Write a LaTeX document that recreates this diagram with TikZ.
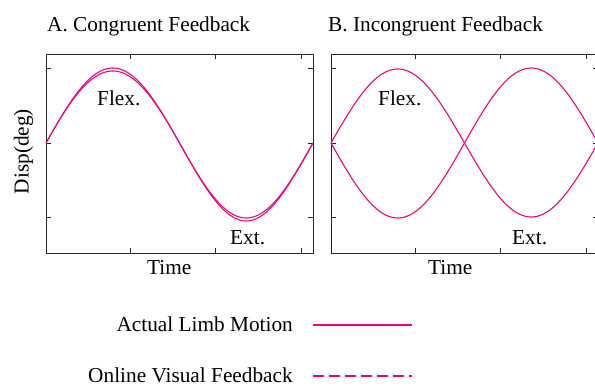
\documentclass[tikz,border=0pt]{standalone}
\usepackage{fontspec}
\setmainfont{Liberation Serif}
\definecolor{curvecol}{RGB}{228,8,128}
\begin{document}
\begin{tikzpicture}[x=1pt,y=-1pt,
  frame/.style={draw=black!85,line width=0.9pt},
  tick/.style={draw=black!85,line width=0.9pt},
  curve/.style={draw=curvecol,line width=1.1pt},
  lbl/.style={inner sep=0pt,font=\fontsize{21.3}{25}\selectfont}]
\useasboundingbox (0,0) rectangle (595,387);
\clip (0,0) rectangle (595,387);
% ---- panel A ----
\draw[frame] (46,54) rectangle (313,253);
\foreach \yy in {68,143,217}{
  \draw[tick] (46,\yy) -- (51,\yy);
  \draw[tick] (313,\yy) -- (308,\yy);}
\foreach \xx in {130,215,301}{
  \draw[tick] (\xx,54) -- (\xx,59);
  \draw[tick] (\xx,253) -- (\xx,248);}
\draw[curve] plot[domain=0:360,samples=120,smooth] ({46+0.741667*\x},{143-75*sin(\x)});
\draw[curve] plot[domain=0:360,samples=120,smooth] ({46+0.741667*\x},{143-75*sin(\x)+3*sin(\x)*sin(\x)});
% ---- panel B ----
\draw[frame] (331,54) rectangle (598,253);
\foreach \yy in {68,143,217}{
  \draw[tick] (331,\yy) -- (336,\yy);
  \draw[tick] (598,\yy) -- (593,\yy);}
\foreach \xx in {415,500,586}{
  \draw[tick] (\xx,54) -- (\xx,59);
  \draw[tick] (\xx,253) -- (\xx,248);}
\draw[curve] plot[domain=0:360,samples=120,smooth] ({331+0.741667*\x},{143-74*sin(\x)});
\draw[curve] plot[domain=0:360,samples=120,smooth] ({331+0.741667*\x},{143+75*sin(\x)});
% ---- texts ----
\node[lbl,anchor=base west] (ta) at (47,32) {A. Congruent Feedback};
\node[lbl,anchor=base west] (tb) at (328,32) {B. Incongruent Feedback};
\node[lbl,anchor=base west] (fa) at (97,106) {Flex.};
\node[lbl,anchor=base west] (fb) at (378,106) {Flex.};
\node[lbl,anchor=base west] (ea) at (230,245) {Ext.};
\node[lbl,anchor=base west] (eb) at (512,245) {Ext.};
\node[lbl,anchor=base west] (xa) at (147,275) {Time};
\node[lbl,anchor=base west] (xb) at (428,275) {Time};
\node[lbl,anchor=base,rotate=90] (ya) at (28.5,151.5) {Disp(deg)};
% ---- legend ----
\node[lbl,anchor=base east] (l1) at (293,332) {Actual Limb Motion};
\node[lbl,anchor=base east] (l2) at (293,383) {Online Visual Feedback};
\coordinate (l1a) at (313,325); \coordinate (l1b) at (412,325);
\coordinate (l2a) at (313,376); \coordinate (l2b) at (412,376);
\draw[curve] (l1a) -- (l1b);
\draw[curve,dash pattern=on 11pt off 5pt] (l2a) -- (l2b);
\end{tikzpicture}
\end{document}
